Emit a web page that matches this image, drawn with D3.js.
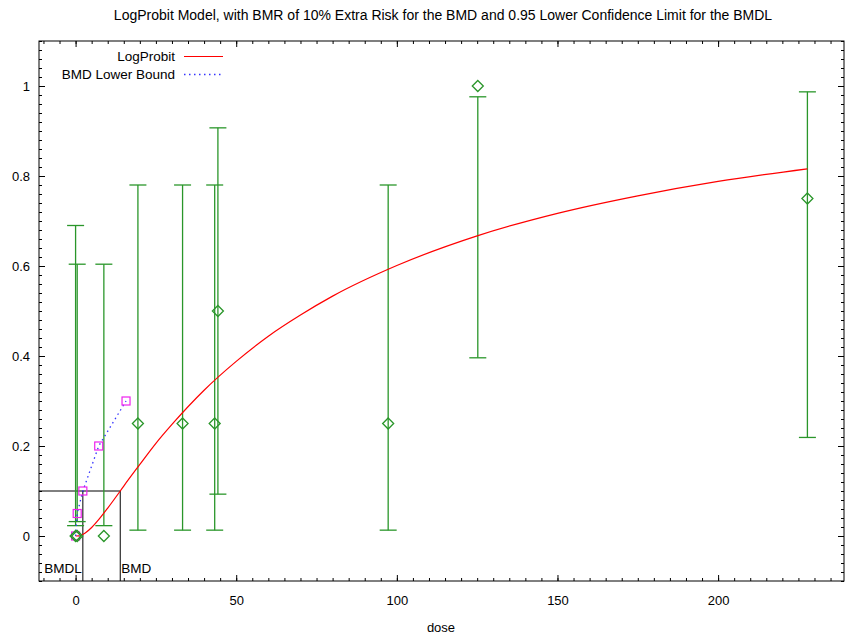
<!DOCTYPE html>
<html>
<head>
<meta charset="utf-8">
<script src="https://cdn.jsdelivr.net/npm/d3@7/dist/d3.min.js"></script>
<style>
  html, body { margin: 0; padding: 0; background: #fff; }
  svg { display: block; font-family: "Liberation Sans", Arial, sans-serif; }
</style>
</head>
<body>
<svg id="chart" width="848" height="635"></svg>
<script>
// Observed dose groups: response fraction with confidence bounds
const obsDose  = [0, 0.5, 8.8, 19.4, 33.3, 43.3, 44.3, 97.3, 125.2, 227.8];
const obsResp  = [0, 0, 0, 0.25, 0.25, 0.25, 0.5, 0.25, 1.0, 0.75];
const obsLower = [0.023, 0.032, 0.023, 0.013, 0.013, 0.013, 0.093, 0.013, 0.396, 0.219];
const obsUpper = [0.69, 0.604, 0.604, 0.78, 0.78, 0.78, 0.907, 0.78, 0.976, 0.987];

// Fitted LogProbit curve, sampled along dose
const curveDose = [0, 1, 2, 3, 5, 7.5, 10, 13.9, 15, 20, 25, 30, 40, 50, 60, 70, 80, 100, 125, 150, 175, 200, 227.8];
const curveResp = [0, 0.0004, 0.0026, 0.0066, 0.0188, 0.039, 0.062, 0.1, 0.111, 0.159, 0.206, 0.248, 0.324, 0.388, 0.444, 0.491, 0.533, 0.601, 0.667, 0.717, 0.756, 0.788, 0.816];

// BMD lower bound trace
const lbDose = [0, 0.5, 2.26, 7.2, 15.7];
const lbResp = [0, 0.05, 0.1, 0.2, 0.3];

// Benchmark values
const bmr = 0.1;
const bmd = 13.9;
const bmdl = 2.26;

// Axis ticks
const xMajorTicks = [0, 50, 100, 150, 200];
const yMajorTicks = [0, 0.2, 0.4, 0.6, 0.8, 1.0];

const titleText = "LogProbit Model, with BMR of 10% Extra Risk for the BMD and 0.95 Lower Confidence Limit for the BMDL";

const svg = d3.select("#chart");
const L = 39, R = 844, T = 41, B = 581;
const maxDose = d3.max(obsDose);
const x = d3.scaleLinear().domain([-0.05 * maxDose, 1.05 * maxDose]).range([L, R]);
const y = d3.scaleLinear().domain([-0.1, 1.1]).range([B, T]);

const xMinor = d3.range(-10, 240, 5);
const yMinor = d3.range(-0.1, 1.1001, 0.02).map(v => +v.toFixed(2));

const fmtY = v => (v === 0 ? "0" : v === 1 ? "1" : d3.format(".1f")(v));

function styleAxis(g) {
  g.select(".domain").remove();
  g.selectAll("line").attr("stroke", "#000");
  g.selectAll("text").attr("font-size", 13).attr("fill", "#000")
    .attr("font-family", "'Liberation Sans', Arial, sans-serif");
}

// minor ticks on all four sides (inward)
svg.append("g").attr("transform", `translate(0,${B})`)
  .call(d3.axisBottom(x).tickValues(xMinor).tickSize(-3).tickFormat("")).call(styleAxis);
svg.append("g").attr("transform", `translate(0,${T})`)
  .call(d3.axisTop(x).tickValues(xMinor).tickSize(-3).tickFormat("")).call(styleAxis);
svg.append("g").attr("transform", `translate(${L},0)`)
  .call(d3.axisLeft(y).tickValues(yMinor).tickSize(-3).tickFormat("")).call(styleAxis);
svg.append("g").attr("transform", `translate(${R},0)`)
  .call(d3.axisRight(y).tickValues(yMinor).tickSize(-3).tickFormat("")).call(styleAxis);

// major ticks with labels
svg.append("g").attr("transform", `translate(0,${B})`)
  .call(d3.axisBottom(x).tickValues(xMajorTicks).tickSize(-6).tickPadding(15).tickFormat(d3.format("d"))).call(styleAxis);
svg.append("g").attr("transform", `translate(0,${T})`)
  .call(d3.axisTop(x).tickValues(xMajorTicks).tickSize(-6).tickFormat("")).call(styleAxis);
svg.append("g").attr("transform", `translate(${L},0)`)
  .call(d3.axisLeft(y).tickValues(yMajorTicks).tickSize(-6).tickPadding(9).tickFormat(fmtY)).call(styleAxis);
svg.append("g").attr("transform", `translate(${R},0)`)
  .call(d3.axisRight(y).tickValues(yMajorTicks).tickSize(-6).tickFormat("")).call(styleAxis);

// frame
svg.append("rect").attr("x", L).attr("y", T).attr("width", R - L).attr("height", B - T)
  .attr("fill", "none").attr("stroke", "#000").attr("stroke-width", 1);

// BMD / BMDL reference lines
const ref = svg.append("g").attr("stroke", "#000").attr("stroke-width", 1);
ref.append("line").attr("x1", L).attr("x2", x(bmd)).attr("y1", y(bmr)).attr("y2", y(bmr));
ref.append("line").attr("x1", x(bmdl)).attr("x2", x(bmdl)).attr("y1", y(bmr)).attr("y2", B);
ref.append("line").attr("x1", x(bmd)).attr("x2", x(bmd)).attr("y1", y(bmr)).attr("y2", B);
svg.append("text").attr("x", x(bmdl) - 1).attr("y", 572.5).attr("text-anchor", "end")
  .attr("font-size", 13.5).text("BMDL");
svg.append("text").attr("x", x(bmd) + 1).attr("y", 572.5).attr("text-anchor", "start")
  .attr("font-size", 13.5).text("BMD");

// error bars
const green = "#2a962a";
const obs = obsDose.map((d, i) => ({ d, r: obsResp[i], lo: obsLower[i], hi: obsUpper[i] }));
const eb = svg.append("g").attr("stroke", green).attr("stroke-width", 1.3).attr("fill", "none");
obs.forEach(o => {
  const cx = x(o.d);
  eb.append("line").attr("x1", cx).attr("x2", cx).attr("y1", y(o.lo)).attr("y2", y(o.hi));
  eb.append("line").attr("x1", cx - 8.5).attr("x2", cx + 8.5).attr("y1", y(o.lo)).attr("y2", y(o.lo));
  eb.append("line").attr("x1", cx - 8.5).attr("x2", cx + 8.5).attr("y1", y(o.hi)).attr("y2", y(o.hi));
});

// fitted curve
const line = d3.line().x((d, i) => x(curveDose[i])).y((d, i) => y(curveResp[i])).curve(d3.curveMonotoneX);
svg.append("path").datum(curveDose).attr("d", line)
  .attr("fill", "none").attr("stroke", "#ff0000").attr("stroke-width", 1.2);

// lower bound trace
const lbLine = d3.line().x((d, i) => x(lbDose[i])).y((d, i) => y(lbResp[i]));
svg.append("path").datum(lbDose).attr("d", lbLine)
  .attr("fill", "none").attr("stroke", "#3333ff").attr("stroke-width", 1.3)
  .attr("stroke-dasharray", "1.5,3.5");
svg.append("g").selectAll("rect").data(lbDose).join("rect")
  .attr("x", (d) => x(d) - 4).attr("y", (d, i) => y(lbResp[i]) - 4)
  .attr("width", 8).attr("height", 8)
  .attr("fill", "none").attr("stroke", "#ee22ee").attr("stroke-width", 1.2);

// observed points (diamonds)
svg.append("g").selectAll("path").data(obs).join("path")
  .attr("d", o => {
    const cx = x(o.d), cy = y(o.r), s = 5.5;
    return `M${cx},${cy - s}L${cx + s},${cy}L${cx},${cy + s}L${cx - s},${cy}Z`;
  })
  .attr("fill", "none").attr("stroke", green).attr("stroke-width", 1.3);

// legend
const lg = svg.append("g");
lg.append("text").attr("x", 175).attr("y", 61).attr("text-anchor", "end").attr("font-size", 13.5).text("LogProbit");
lg.append("line").attr("x1", 184).attr("x2", 223).attr("y1", 56.5).attr("y2", 56.5)
  .attr("stroke", "#ff0000").attr("stroke-width", 1.2);
lg.append("text").attr("x", 175).attr("y", 79).attr("text-anchor", "end").attr("font-size", 13.5).text("BMD Lower Bound");
lg.append("line").attr("x1", 184).attr("x2", 223).attr("y1", 74.5).attr("y2", 74.5)
  .attr("stroke", "#3333ff").attr("stroke-width", 1.3).attr("stroke-dasharray", "1.5,3.5");

// title and axis label
svg.append("text").attr("x", 443).attr("y", 20).attr("text-anchor", "middle")
  .attr("font-size", 14).text(titleText);
svg.append("text").attr("x", 441).attr("y", 632).attr("text-anchor", "middle")
  .attr("font-size", 13).text("dose");
</script>
</body>
</html>
